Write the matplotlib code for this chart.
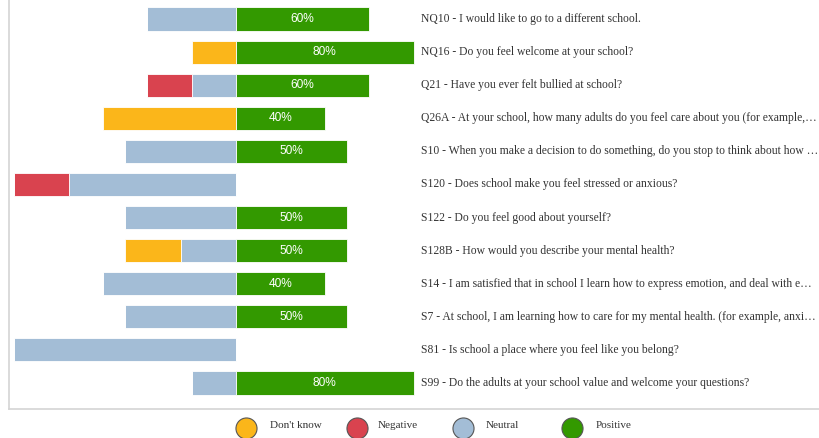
import matplotlib
matplotlib.use("Agg")
import matplotlib.pyplot as plt

questions = [
    "NQ10 - I would like to go to a different school.",
    "NQ16 - Do you feel welcome at your school?",
    "Q21 - Have you ever felt bullied at school?",
    "Q26A - At your school, how many adults do you feel care about you (for example,\u2026",
    "S10 - When you make a decision to do something, do you stop to think about how \u2026",
    "S120 - Does school make you feel stressed or anxious?",
    "S122 - Do you feel good about yourself?",
    "S128B - How would you describe your mental health?",
    "S14 - I am satisfied that in school I learn how to express emotion, and deal with e\u2026",
    "S7 - At school, I am learning how to care for my mental health. (for example, anxi\u2026",
    "S81 - Is school a place where you feel like you belong?",
    "S99 - Do the adults at your school value and welcome your questions?",
]
dont_know = [0, 20, 0, 60, 0, 0, 0, 25, 0, 0, 0, 0]
negative = [0, 0, 20, 0, 0, 25, 0, 0, 0, 0, 0, 0]
neutral = [40, 0, 20, 0, 50, 75, 50, 25, 60, 50, 100, 20]
positive = [60, 80, 60, 40, 50, 0, 50, 50, 40, 50, 0, 80]

categories = ["Don't know", "Negative", "Neutral", "Positive"]
colors = {"Don't know": "#fbb61a", "Negative": "#d9434f",
          "Neutral": "#a3bdd6", "Positive": "#339900"}

W, H = 819, 438
fig = plt.figure(figsize=(W / 100, H / 100), dpi=100)
fig.patch.set_facecolor("white")

# overlay axes in pixel coords for frame, labels & legend
ov = fig.add_axes([0, 0, 1, 1])
ov.set_xlim(0, W)
ov.set_ylim(H, 0)
ov.axis("off")
ov.plot([9, 9], [0, 409], color="#d4d4d4", lw=1.2)
ov.plot([9, W], [409, 409], color="#d4d4d4", lw=1.2)

# main axes: x -100..100 maps to px 14..458 ; rows at 19 + 33.09*i
ax = fig.add_axes([14 / W, (H - 408) / H, 444 / W, 408 / H])
ax.set_facecolor("none")
n = len(questions)
ys = list(range(n))
h = 0.7
neu_left = [-v for v in neutral]
neg_left = [-(a + b) for a, b in zip(neutral, negative)]
dk_left = [-(a + b + c) for a, b, c in zip(neutral, negative, dont_know)]
kw = dict(height=h, edgecolor="white", linewidth=0.6)
ax.barh(ys, neutral, left=neu_left, color=colors["Neutral"], **kw)
ax.barh(ys, negative, left=neg_left, color=colors["Negative"], **kw)
ax.barh(ys, dont_know, left=dk_left, color=colors["Don't know"], **kw)
ax.barh(ys, positive, left=0, color=colors["Positive"], **kw)
for y, p in zip(ys, positive):
    if p > 0:
        ax.text(p / 2, y, f"{p}%", color="white", ha="center", va="center",
                fontsize=8.6, family="Liberation Sans")
ax.set_xlim(-100, 100)
top = -19 / 33.09
bot = (408 - 19) / 33.09
ax.set_ylim(bot, top)
ax.axis("off")

for i, q in enumerate(questions):
    py = 19 + 33.09 * i
    ov.text(421, py, q, ha="left", va="center", fontsize=8.4,
            family="Liberation Serif", color="#333333")

# legend
leg_x = [246, 357, 463, 572]
txt_x = [270, 378, 486, 596]
for cx, tx, c in zip(leg_x, txt_x, categories):
    ov.scatter([cx], [428], s=230, color=colors[c], edgecolor="#555555",
               linewidth=0.8, zorder=3)
    ov.text(tx, 425, c, ha="left", va="center", fontsize=8,
            family="Liberation Serif", color="#333333")

fig.savefig("out.png", dpi=100)
